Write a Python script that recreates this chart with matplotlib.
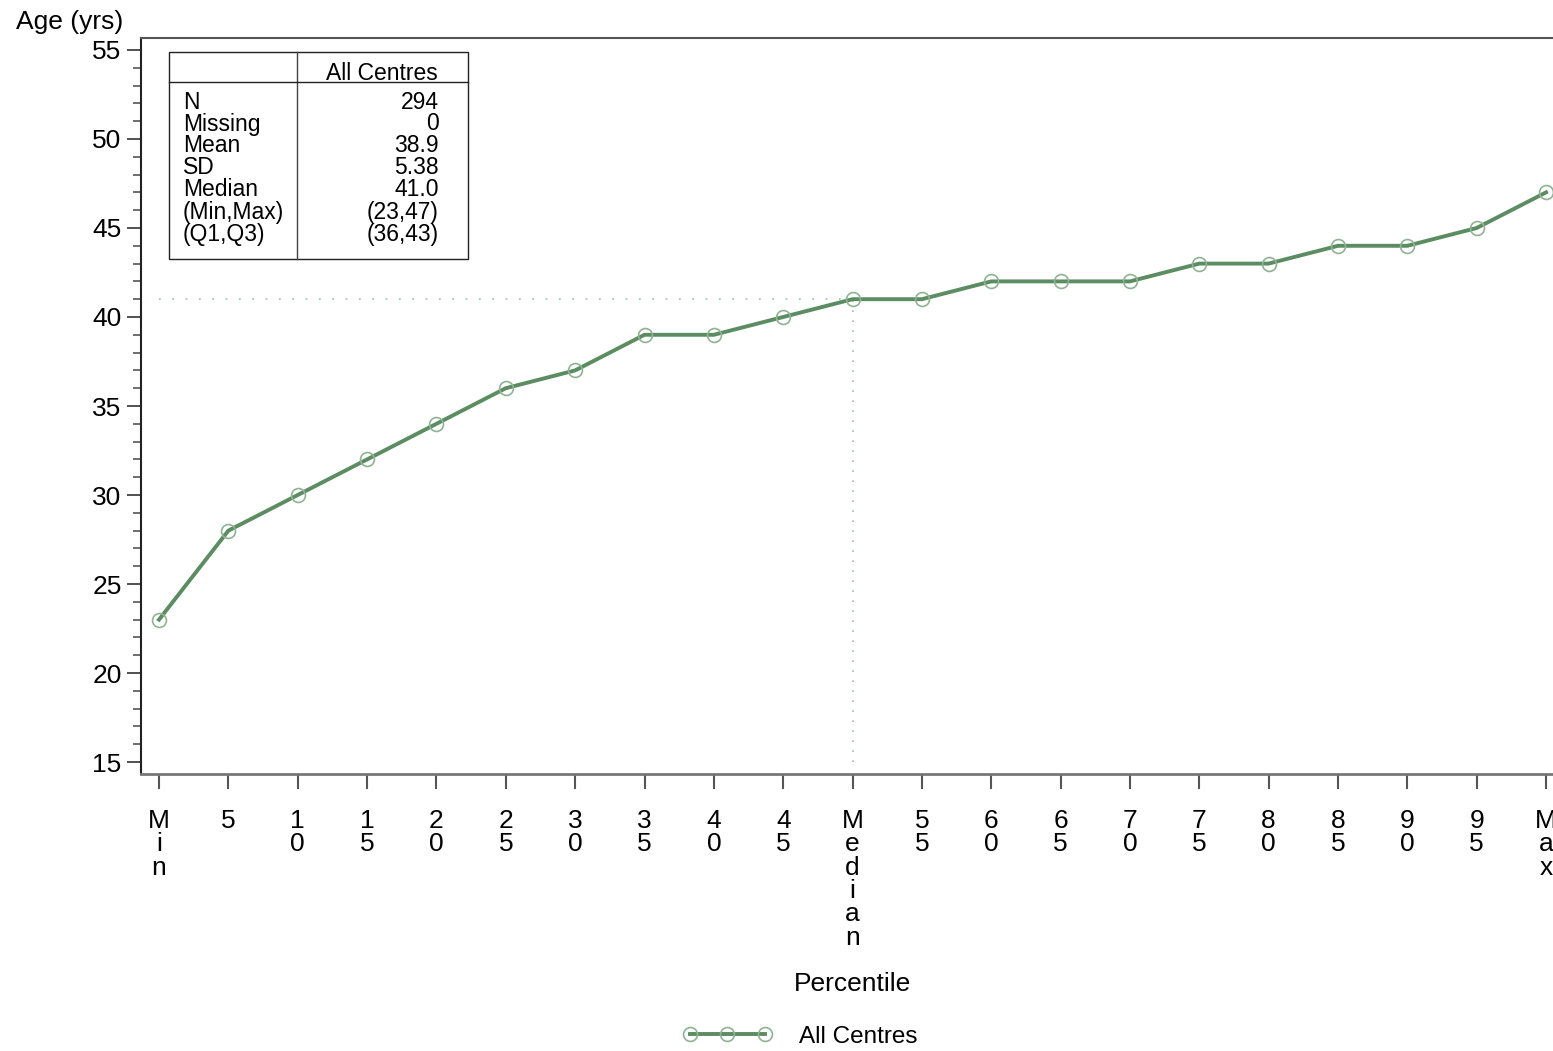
import matplotlib
matplotlib.use('Agg')
import matplotlib.pyplot as plt
from matplotlib.ticker import MultipleLocator

plt.rcParams['font.family'] = ['Liberation Sans', 'DejaVu Sans']

# percentile labels and ages
percentiles = ["Min", "5", "10", "15", "20", "25", "30", "35", "40", "45", "Median",
               "55", "60", "65", "70", "75", "80", "85", "90", "95", "Max"]
ages = [23, 28, 30, 32, 34, 36, 37, 39, 39, 40, 41,
        41, 42, 42, 42, 43, 43, 44, 44, 45, 47]

# summary table
stat_names = ["N", "Missing", "Mean", "SD", "Median", "(Min,Max)", "(Q1,Q3)"]
stat_values = ["294", "0", "38.9", "5.38", "41.0", "(23,47)", "(36,43)"]
median_value = 41.0

line_color = '#5b8c62'
marker_color = '#8fb394'

fig = plt.figure(figsize=(15.53, 10.51), dpi=100)
ax = fig.add_axes([0.0908, 0.2636, 0.9092, 0.7002])

x = list(range(len(percentiles)))
ax.plot(x, ages, color=line_color, linewidth=2.8, marker='o', markersize=10,
        markerfacecolor='none', markeredgecolor=marker_color, markeredgewidth=1.2,
        label='All Centres', zorder=3)

# dotted reference lines at the median
mi = percentiles.index("Median")
ax.plot([0, mi], [median_value, median_value], linestyle=(0, (1, 7)), color='#9bb8b8', linewidth=1.2)
ax.plot([mi, mi], [15, median_value], linestyle=(0, (1, 5)), color='#9bb8b8', linewidth=1.2)

ax.set_xlim(-0.26, 20.1)
ax.set_ylim(14.33, 55.67)
ax.set_yticks(range(15, 56, 5))
ax.yaxis.set_minor_locator(MultipleLocator(1))
ax.set_xticks(x)
ax.set_xticklabels(["\n".join(p) for p in percentiles], linespacing=0.97)

ax.tick_params(axis='y', which='major', length=10, width=1.2, labelsize=19, pad=4, color='#333333')
ax.tick_params(axis='y', which='minor', length=6, width=1.2, color='#555555')
ax.tick_params(axis='x', which='major', length=11, width=1.5, labelsize=19, pad=14, color='#555555')

ax.spines['right'].set_visible(False)
ax.spines['left'].set_color('#222222')
ax.spines['left'].set_linewidth(1.5)
ax.spines['bottom'].set_color('#777777')
ax.spines['bottom'].set_linewidth(2)
ax.spines['top'].set_color('#555555')
ax.spines['top'].set_linewidth(1.5)

fig.text(0.0103, 0.979, "Age (yrs)", fontsize=19, ha='left', va='center')
fig.text(0.549, 0.064, "Percentile", fontsize=19, ha='center', va='center')

# inset summary table
tx0, tx1, txd = 169, 468, 297
ty0, ty1, tyh = 52, 259, 82
W, H = 1553, 1051
def fx(p):
    return p / W
def fy(p):
    return 1 - p / H
fig.add_artist(plt.Rectangle((fx(tx0), fy(ty1)), fx(tx1) - fx(tx0), fy(ty0) - fy(ty1),
                             fill=False, edgecolor='#222222', linewidth=1, transform=fig.transFigure))
fig.add_artist(plt.Line2D([fx(txd), fx(txd)], [fy(ty0), fy(ty1)], color='#444444', linewidth=1))
fig.add_artist(plt.Line2D([fx(tx0), fx(tx1)], [fy(tyh), fy(tyh)], color='#222222', linewidth=1))
fig.text(fx(382), fy(73), "All Centres", fontsize=16.5, ha='center', va='center')
for i, (n, v) in enumerate(zip(stat_names, stat_values)):
    yy = fy(102 + 22 * i)
    fig.text(fx(183), yy, n, fontsize=16.5, ha='left', va='center')
    fig.text(fx(439), yy, v, fontsize=16.5, ha='right', va='center')

# legend
fig.legend(handles=ax.get_lines()[:1], labels=['All Centres'], loc='center',
           bbox_to_anchor=(0.515, 0.0135), frameon=False, fontsize=17.5,
           handlelength=3.7, numpoints=3, markerscale=1.0, handletextpad=1.1)

fig.savefig('out.png', dpi=100)
